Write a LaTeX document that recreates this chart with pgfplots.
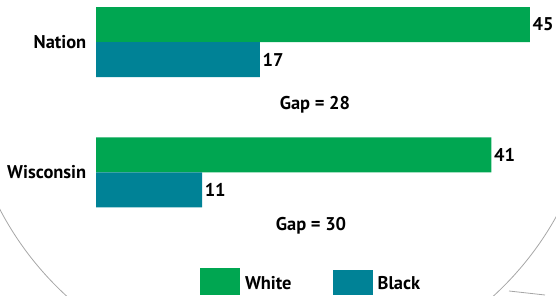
\documentclass[border=0pt]{standalone}
\usepackage{fontspec}
\setmainfont{PT Sans}[BoldFont={PT Sans Bold}]
\newcommand\lab{\fontseries{b}\selectfont\fontsize{18.5}{18.5}\selectfont}
\usepackage{pgfplots}
\pgfplotsset{compat=1.18}
\definecolor{cgreen}{RGB}{0,166,81}
\definecolor{cteal}{RGB}{0,130,150}
\begin{document}
\begin{tikzpicture}[x=1bp,y=1bp]
\useasboundingbox (0,0) rectangle (556,295);
\begin{scope}
\clip (0,0) rectangle (556,295);
\draw[black!35, line width=0.8bp] (280,232) circle (316);
\draw[black!35, line width=0.8bp] (509,4) -- (545,0);
\end{scope}
\begin{axis}[
  at={(96bp,0bp)}, anchor=south west,
  scale only axis, width=460bp, height=295bp,
  xmin=0, xmax=47.7, ymin=-0.939, ymax=1.322,
  xbar, bar width=35bp,
  axis line style={draw=none},
  tick style={draw=none},
  xtick=\empty,
  ytick={0,1}, yticklabels={\lab Wisconsin,\lab Nation},
  yticklabel style={font=\lab, xshift=-2bp},
  /pgf/number format/assume math mode=true,
  nodes near coords={\lab\pgfmathprintnumber{\pgfplotspointmeta}},
  nodes near coords style={font=\lab, inner sep=2.5bp, black, anchor=west},
  legend columns=2,
  legend style={draw=none, fill=none, at={(0.2261,0)}, anchor=south west,
    inner sep=0pt, outer sep=0pt,
    nodes={inner sep=0pt, font=\lab},
    /tikz/every odd column/.append style={column sep=5bp},
    /tikz/every even column/.append style={column sep=41bp}},
  clip=false,
]
\addplot[fill=cgreen, draw=none, bar shift=17.5bp,
  legend image code/.code={\fill[cgreen] (0bp,-11bp) rectangle (40bp,16bp);}]
  coordinates {(45,1) (41,0)};
\addlegendentry{\lab White}
\addplot[fill=cteal, draw=none, bar shift=-17.5bp,
  legend image code/.code={\fill[cteal] (0bp,-11bp) rectangle (40bp,14bp);}]
  coordinates {(17,1) (11,0)};
\addlegendentry{\lab Black}
\node[anchor=base, font=\lab] at (axis cs:22.7,0.479) {Gap = 28};
\node[anchor=base, font=\lab] at (axis cs:22.3,-0.441) {Gap = 30};
\end{axis}
\end{tikzpicture}
\end{document}
